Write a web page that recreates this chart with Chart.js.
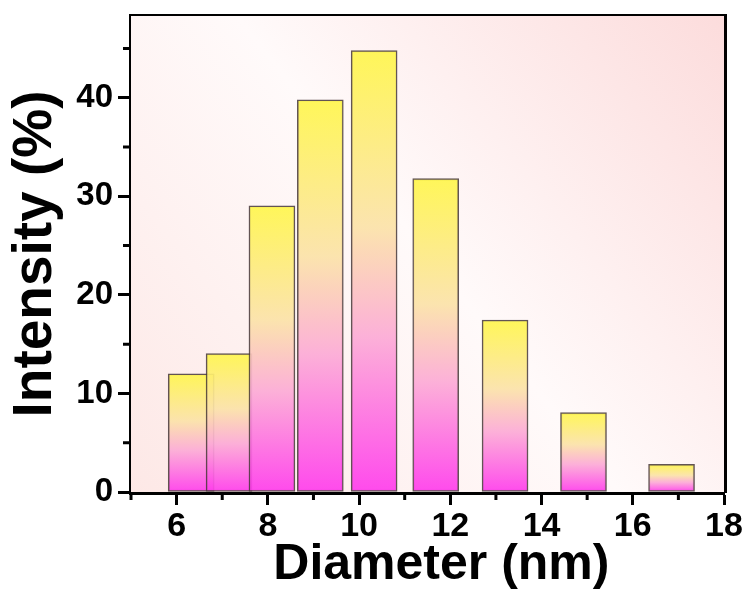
<!DOCTYPE html>
<html>
<head>
<meta charset="utf-8">
<script src="https://cdn.jsdelivr.net/npm/chart.js@4.4.0/dist/chart.umd.min.js"></script>
<style>
  html, body { margin: 0; padding: 0; background: #fff; }
  #wrap { width: 748px; height: 599px; }
</style>
</head>
<body>
<div id="wrap"><canvas id="grafico" width="748" height="599"></canvas></div>
<script>
// Dados =====================================================================

const diametros = [6.32, 7.15, 8.09, 9.15, 10.33, 11.68, 13.2, 14.92, 16.85];
const intensidades = [12.0, 14.05, 29.05, 39.8, 44.8, 31.8, 17.45, 8.05, 2.8];

const xTicks = [6, 8, 10, 12, 14, 16, 18];
const xMinor = [5, 7, 9, 11, 13, 15, 17];
const yTicks = [0, 10, 20, 30, 40];
const yMinor = [5, 15, 25, 35, 45];

const fonte = "'Liberation Sans', Arial, sans-serif";

// Gradiente das barras ======================================================

function gradienteBarra(context) {
  const chart = context.chart;
  const y = chart.scales.y;
  if (!chart.chartArea || !y || context.type !== "data") return "#fdf24f";
  const topo = y.getPixelForValue(intensidades[context.dataIndex]);
  const base = y.getPixelForValue(0);
  const g = chart.ctx.createLinearGradient(0, topo, 0, base);
  g.addColorStop(0, "rgba(255,246,76,0.92)");
  g.addColorStop(0.4, "rgba(251,226,168,0.92)");
  g.addColorStop(0.65, "rgba(252,170,214,0.92)");
  g.addColorStop(1, "rgba(255,60,236,0.92)");
  return g;
}

// Plugins ===================================================================

const fundo = {
  id: "fundo",
  beforeDatasetsDraw(chart) {
    const { ctx, chartArea: a } = chart;
    const g = ctx.createLinearGradient(a.left, a.bottom, a.right, a.top);
    g.addColorStop(0, "#fde8e6");
    g.addColorStop(0.5, "#fffafa");
    g.addColorStop(1, "#fcdcdc");
    ctx.save();
    ctx.fillStyle = g;
    ctx.fillRect(a.left, a.top, a.right - a.left, a.bottom - a.top);
    ctx.restore();
  },
};

const ticksMenores = {
  id: "ticksMenores",
  afterDraw(chart) {
    const { ctx, chartArea: a, scales } = chart;
    ctx.save();
    ctx.strokeStyle = "#000";
    ctx.lineWidth = 3;
    ctx.beginPath();
    xMinor.forEach((v) => {
      const px = scales.x.getPixelForValue(v);
      ctx.moveTo(px, a.bottom);
      ctx.lineTo(px, a.bottom + 8);
    });
    yMinor.forEach((v) => {
      const py = scales.y.getPixelForValue(v);
      ctx.moveTo(a.left, py);
      ctx.lineTo(a.left - 8, py);
    });
    ctx.stroke();
    ctx.restore();
  },
};

// Gráfico ===================================================================

const data = {
  datasets: [
    {
      label: "Intensity",
      data: diametros.map((d, i) => ({ x: d, y: intensidades[i] })),
      backgroundColor: gradienteBarra,
      borderColor: "rgba(70,55,55,0.85)",
      borderWidth: 1.5,
      borderSkipped: false,
      barThickness: 46,
    },
  ],
};

const semPadding = (s) => {
  s.paddingTop = 0;
  s.paddingBottom = 0;
};

const config = {
  type: "bar",
  data: data,
  plugins: [fundo, ticksMenores],
  options: {
    responsive: false,
    animation: false,
    layout: { padding: { left: 8, top: 16, right: 24, bottom: 9 } },
    plugins: { legend: { display: false }, tooltip: { enabled: false } },
    scales: {
      x: {
        type: "linear",
        position: "bottom",
        offset: false,
        min: 5,
        max: 18,
        afterBuildTicks: (s) => { s.ticks = xTicks.map((v) => ({ value: v })); },
        afterFit: (s) => { s.height = 98; s.paddingLeft = 0; s.paddingRight = 0; },
        grid: { drawOnChartArea: false, drawTicks: true, tickLength: 13, tickWidth: 3, tickColor: "#000", offset: false },
        border: { display: true, color: "#000", width: 5 },
        ticks: {
          color: "#000",
          padding: 1,
          maxRotation: 0,
          autoSkip: false,
          font: { family: fonte, size: 34, weight: "bold" },
        },
        title: {
          display: true,
          text: "  Diameter (nm)",
          color: "#000",
          padding: 0,
          font: { family: fonte, size: 50, weight: "bold", lineHeight: 1 },
        },
      },
      x2: {
        type: "linear",
        position: "top",
        offset: false,
        min: 5,
        max: 18,
        afterFit: (s) => { s.height = 0; },
        ticks: { display: false },
        grid: { display: false, drawTicks: false },
        border: { display: true, color: "#000", width: 5 },
      },
      y: {
        position: "left",
        min: 0,
        max: 48.3,
        afterBuildTicks: (s) => { s.ticks = yTicks.map((v) => ({ value: v })); },
        afterFit: (s) => { s.width = 123; semPadding(s); },
        grid: { drawOnChartArea: false, drawTicks: true, tickLength: 13, tickWidth: 3, tickColor: "#000" },
        border: { display: true, color: "#000", width: 5 },
        ticks: {
          color: "#000",
          padding: 5,
          font: { family: fonte, size: 33, weight: "bold" },
        },
        title: {
          display: true,
          text: "Intensity (%)",
          color: "#000",
          padding: 0,
          font: { family: fonte, size: 55, weight: "bold", lineHeight: 1 },
        },
      },
      y2: {
        position: "right",
        min: 0,
        max: 48.3,
        afterFit: (s) => { s.width = 0; semPadding(s); },
        ticks: { display: false },
        grid: { display: false, drawTicks: false },
        border: { display: true, color: "#000", width: 5 },
      },
    },
  },
};

const grafico = new Chart(document.getElementById("grafico"), config);
</script>
</body>
</html>
